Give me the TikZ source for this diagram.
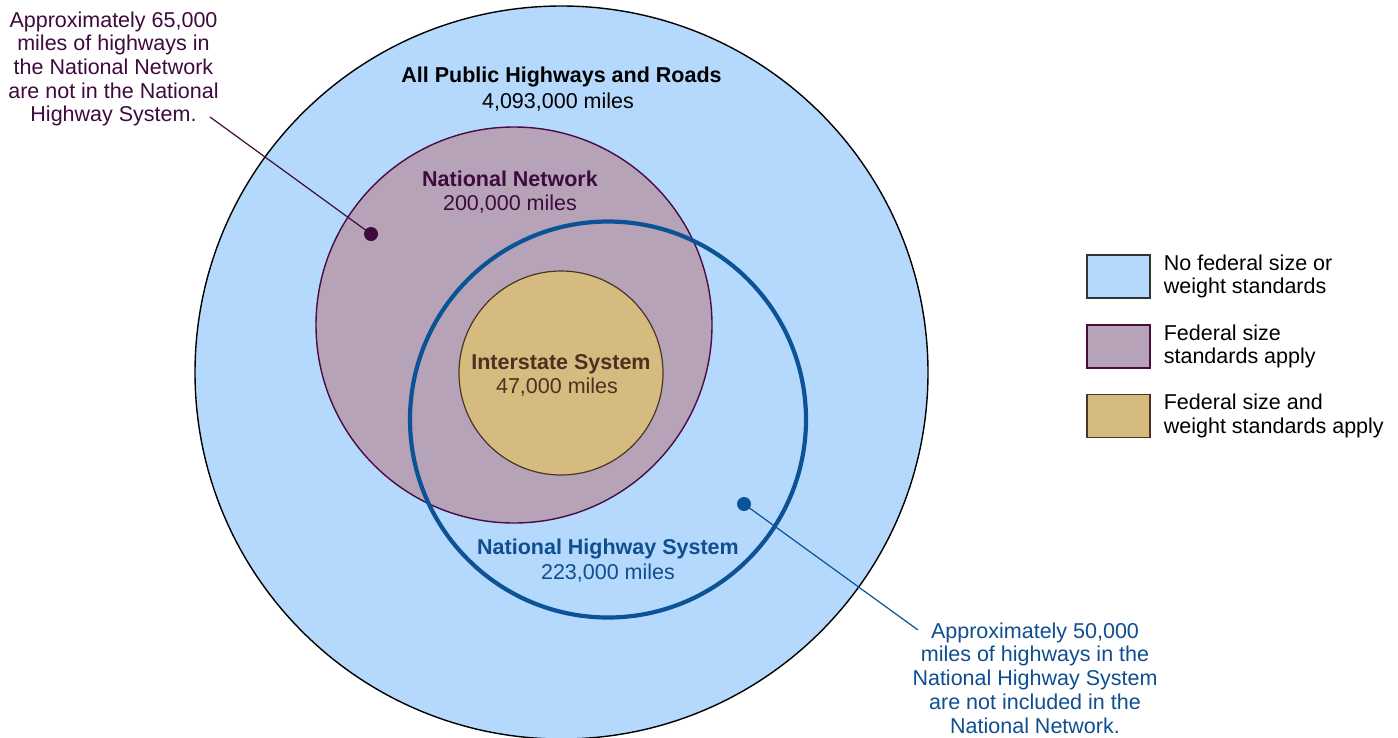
\documentclass[tikz,border=0pt]{standalone}
\usepackage{fontspec}
\setmainfont{Liberation Sans}
\definecolor{skyfill}{HTML}{B4D9FC}
\definecolor{nnfill}{HTML}{B6A3B7}
\definecolor{nnline}{HTML}{4A0B44}
\definecolor{nntext}{HTML}{3F0A3E}
\definecolor{isfill}{HTML}{D5BB80}
\definecolor{isline}{HTML}{4A3522}
\definecolor{istext}{HTML}{4A321F}
\definecolor{nhsline}{HTML}{0B5396}
\definecolor{nhstext}{HTML}{0F4E91}
\tikzset{
  txt/.style={inner sep=0pt, font=\fontsize{21.5}{23.7}\selectfont},
  ttl/.style={txt, anchor=base, font=\fontsize{21.5}{23.7}\selectfont\bfseries},
  sub/.style={txt, anchor=base},
  ring/.style={circle, inner sep=0pt},
  dotnode/.style={circle, inner sep=0pt, minimum size=14pt},
  legbox/.style={draw, line width=1.3pt, minimum width=63pt, minimum height=43pt, inner sep=0pt},
  legtxt/.style={txt, anchor=west, align=left}
}
\begin{document}
\begin{tikzpicture}[x=1pt,y=-1pt]
\clip (0,0) rectangle (1398,737);
\fill[white] (0,0) rectangle (1398,737);
% circles
\node[ring, draw=black, line width=1.4pt, fill=skyfill, minimum size=733pt] (all) at (561.5,372.5) {};
\node[ring, draw=nnline, line width=1.4pt, fill=nnfill, minimum size=396pt] (nn) at (514,325) {};
\node[ring, draw=isline, line width=1.2pt, fill=isfill, minimum size=204pt] (is) at (561,373) {};
\node[ring, draw=nhsline, line width=4.2pt, minimum size=396pt] (nhs) at (608,419.5) {};
% labels
\node[ttl, text=black] (allt) at (561.5,82) {All Public Highways and Roads};
\node[sub, text=black] (alls) at (558,108) {4,093,000 miles};
\node[ttl, text=nntext] (nnt) at (510,186) {National Network};
\node[sub, text=nntext] (nns) at (510,210) {200,000 miles};
\node[ttl, text=istext] (ist) at (561,369) {Interstate System};
\node[sub, text=istext] (iss) at (557,393) {47,000 miles};
\node[ttl, text=nhstext] (nhst) at (608,554) {National Highway System};
\node[sub, text=nhstext] (nhss) at (608,579) {223,000 miles};
% annotations
\node[txt, text=nntext, align=center] (annl) at (113.5,69) {Approximately 65,000\\miles of highways in\\the National Network\\are not in the National\\Highway System.};
\node[txt, text=nhstext, align=center] (annr) at (1035,678) {Approximately 50,000\\miles of highways in the\\National Highway System\\are not included in the\\National Network.};
\coordinate (lend) at (210,117);
\coordinate (rend) at (918,630);
\node[dotnode, fill=nntext] (dotl) at (371,234) {};
\node[dotnode, fill=nhsline] (dotr) at (744,504) {};
\draw[nntext, line width=1.2pt] (dotl.center) -- (lend);
\draw[nhsline, line width=1.2pt] (dotr.center) -- (rend);
% legend
\node[legbox, draw=black!80, fill=skyfill] (lb1) at (1118.5,276.5) {};
\node[legbox, draw=nnline, fill=nnfill] (lb2) at (1118.5,346.5) {};
\node[legbox, draw=isline, fill=isfill] (lb3) at (1118.5,416) {};
\node[legtxt] (lt1) at ([xshift=13pt]lb1.east) {No federal size or\\weight standards};
\node[legtxt] (lt2) at ([xshift=13pt]lb2.east) {Federal size\\standards apply};
\node[legtxt] (lt3) at ([xshift=13pt]lb3.east) {Federal size and\\weight standards apply};
\end{tikzpicture}
\end{document}
